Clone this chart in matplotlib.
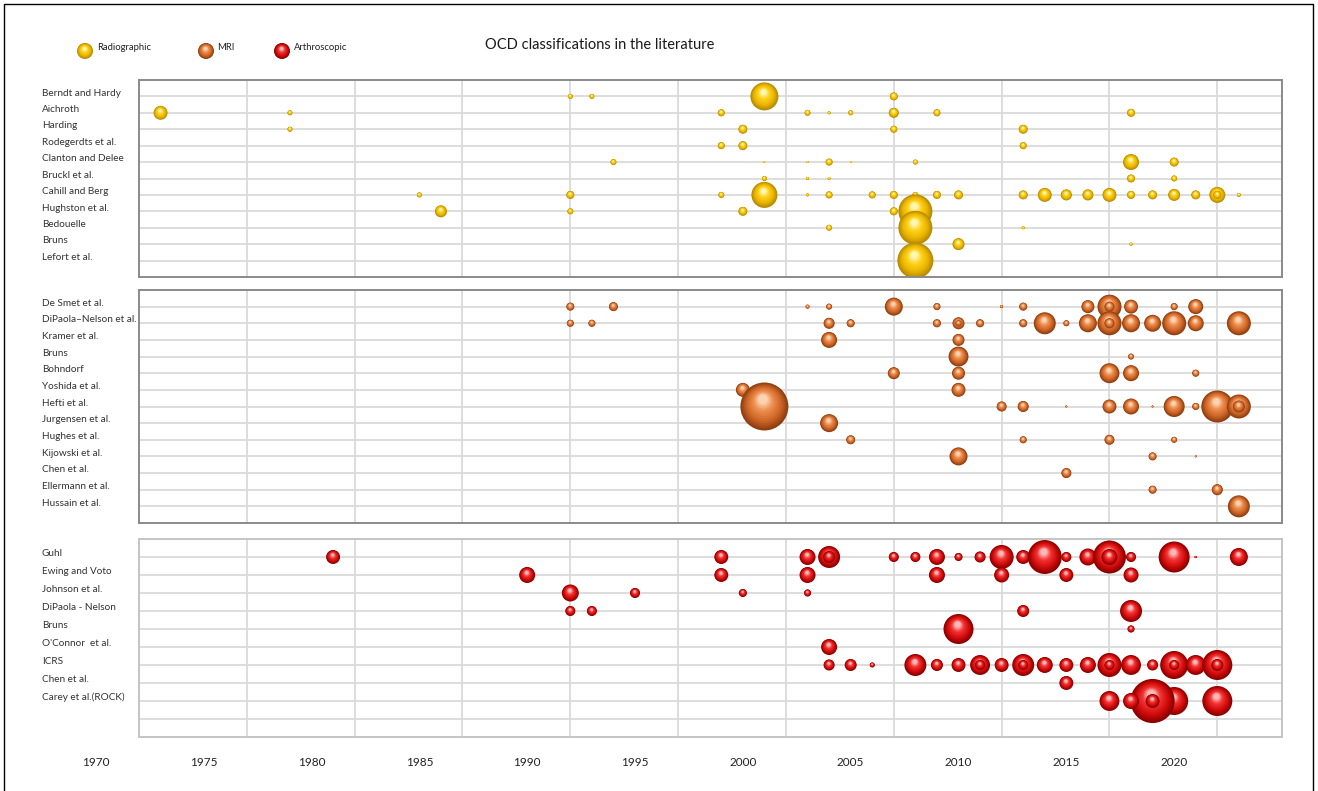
import numpy as np
import matplotlib
matplotlib.use("Agg")
import matplotlib.pyplot as plt
from matplotlib.colors import to_rgb
from matplotlib.transforms import blended_transform_factory as btf

# ---------------- data ----------------
title = "OCD classifications in the literature"
legend_names = ["Radiographic", "MRI", "Arthroscopic"]
year_labels = [1970, 1975, 1980, 1985, 1990, 1995, 2000, 2005, 2010, 2015, 2020]

radio_labels = ["Berndt and Hardy", "Aichroth", "Harding", "Rodegerdts et al.",
                "Clanton and Delee", "Bruckl et al.", "Cahill and Berg",
                "Hughston et al.", "Bedouelle", "Bruns", "Lefort et al."]
radio_years = [
    [1992, 1993, 2001, 2007],
    [1973, 1979, 1999, 2003, 2004, 2005, 2007, 2009, 2018],
    [1979, 2000, 2007, 2013],
    [1999, 2000, 2013],
    [1994, 2001, 2003, 2004, 2005, 2008, 2018, 2020],
    [2001, 2003, 2004, 2018, 2020],
    [1985, 1992, 1999, 2001, 2003, 2004, 2006, 2007, 2008, 2009, 2010, 2013,
     2014, 2015, 2016, 2017, 2018, 2019, 2020, 2021, 2022, 2023],
    [1986, 1992, 2000, 2007, 2008],
    [2004, 2008, 2013],
    [2010, 2018],
    [2008],
]
radio_values = [
    [0.7, 0.7, 21.8, 1.8],
    [5.4, 0.7, 1.4, 1.0, 0.25, 0.7, 2.8, 1.4, 1.8],
    [0.7, 2.25, 1.4, 2.25],
    [1.4, 2.25, 1.4],
    [1.0, 0.07, 0.1, 1.4, 0.07, 0.7, 7.1, 2.25],
    [0.7, 0.25, 0.25, 1.8, 1.0],
    [0.7, 1.8, 1.0, 18.8, 0.25, 1.4, 1.4, 1.8, 1.0, 1.8, 2.25, 2.25,
     5.4, 3.4, 3.4, 5.4, 1.8, 2.25, 4.0, 2.25, 7.1, 0.45],
    [4.0, 1.0, 2.25, 1.8, 32.0],
    [1.0, 32.0, 0.25],
    [4.0, 0.25],
    [36.0],
]
# overlapping (same position) entries that show as inner rings
radio_inner_rows = [6]
radio_inner_years = [2022]
radio_inner_values = [1.8]

mri_labels = ["De Smet et al.", "DiPaola\u2013Nelson et al.", "Kramer et al.", "Bruns",
              "Bohndorf", "Yoshida et al.", "Hefti et al.", "Jurgensen et al.",
              "Hughes et al.", "Kijowski et al.", "Chen et al.", "Ellermann et al.",
              "Hussain et al."]
mri_years = [
    [1992, 1994, 2003, 2004, 2007, 2009, 2012, 2013, 2016, 2017, 2018, 2020, 2021],
    [1992, 1993, 2004, 2005, 2009, 2010, 2011, 2013, 2014, 2015, 2016, 2017,
     2018, 2019, 2020, 2021, 2023],
    [2004, 2010],
    [2010, 2018],
    [2007, 2010, 2017, 2018, 2021],
    [2000, 2010],
    [2001, 2012, 2013, 2015, 2017, 2018, 2019, 2020, 2021, 2022, 2023],
    [2004],
    [2005, 2013, 2017, 2020],
    [2010, 2019, 2021],
    [2015],
    [2019, 2022],
    [2023],
]
mri_values = [
    [1.8, 2.25, 0.45, 1.0, 9.0, 1.4, 0.25, 1.8, 4.7, 16.0, 5.4, 1.4, 6.25],
    [1.4, 1.4, 3.4, 1.8, 1.8, 4.0, 1.8, 1.8, 13.4, 1.0, 9.0, 16.0,
     9.0, 8.0, 16.0, 7.1, 16.0],
    [7.1, 4.0],
    [11.0, 1.0],
    [4.0, 4.7, 11.0, 7.1, 1.4],
    [5.4, 5.4],
    [64.0, 2.8, 3.4, 0.1, 5.4, 7.1, 0.1, 12.25, 1.4, 28.4, 16.0],
    [9.0],
    [2.25, 1.4, 2.8, 1.0],
    [9.0, 1.8, 0.1],
    [2.8],
    [1.8, 3.4],
    [13.4],
]
mri_inner_rows = [0, 1, 1, 6]
mri_inner_years = [2017, 2010, 2017, 2023]
mri_inner_values = [2.8, 1.0, 2.8, 4.0]

arth_labels = ["Guhl", "Ewing and Voto", "Johnson et al.", "DiPaola - Nelson", "Bruns",
               "O'Connor  et al.", "ICRS", "Chen et al.", "Carey et al.(ROCK)"]
arth_years = [
    [1981, 1999, 2003, 2004, 2007, 2008, 2009, 2010, 2011, 2012, 2013, 2014,
     2015, 2016, 2017, 2018, 2020, 2021, 2023],
    [1990, 1999, 2003, 2009, 2012, 2015, 2018],
    [1992, 1995, 2000, 2003],
    [1992, 1993, 2013, 2018],
    [2010, 2018],
    [2004],
    [2004, 2005, 2006, 2008, 2009, 2010, 2011, 2012, 2013, 2014, 2015, 2016,
     2017, 2018, 2019, 2020, 2021, 2022],
    [2015],
    [2017, 2020, 2022, 2019, 2018],
]
arth_values = [
    [5.4, 5.4, 7.1, 13.4, 2.8, 2.8, 7.1, 1.8, 3.4, 16.0, 5.4, 32.0,
     2.8, 8.0, 30.25, 2.8, 26.7, 0.15, 9.0],
    [7.1, 5.4, 7.1, 7.1, 6.25, 5.4, 6.25],
    [8.0, 2.8, 1.8, 1.4],
    [2.8, 2.8, 4.0, 13.4],
    [25.0, 1.4],
    [7.1],
    [3.4, 4.0, 0.7, 13.4, 4.0, 5.4, 11.0, 5.4, 13.4, 7.1, 5.4, 7.1,
     16.0, 11.0, 3.4, 21.8, 11.0, 25.0],
    [5.4],
    [11.0, 21.8, 25.0, 54.0, 7.1],
]
arth_inner_rows = [0, 0, 6, 6, 6, 6, 6, 8]
arth_inner_years = [2004, 2017, 2011, 2013, 2017, 2020, 2022, 2019]
arth_inner_values = [4.0, 7.1, 2.8, 2.8, 2.8, 2.8, 4.0, 5.4]

# ---------------- style ----------------
W, H, DPI = 1318, 791, 100
FONT = ["Lato", "DejaVu Sans"]
plt.rcParams["font.family"] = FONT

YELLOW = [(0.0, "#b88a00"), (0.3, "#e8b400"), (0.7, "#ffd21a"), (1.0, "#fff6b0")]
ORANGE = [(0.0, "#8f3f10"), (0.3, "#cc6426"), (0.7, "#ee8e4e"), (1.0, "#fbd3b2")]
RED = [(0.0, "#8a0000"), (0.3, "#d00a0a"), (0.7, "#f23434"), (1.0, "#ffb8b8")]
BUBBLE_K = 3.0          # pixel radius per sqrt(value)
X0, X1 = 1972, 2025

fig = plt.figure(figsize=(W / DPI, H / DPI), dpi=DPI)
fig.patch.set_facecolor("white")


def interp_colors(stops, ts):
    pos = np.array([p for p, _ in stops])
    rgb = np.array([to_rgb(c) for _, c in stops])
    return np.stack([np.interp(ts, pos, rgb[:, i]) for i in range(3)], axis=1)


def bubble(ax, x, y, r, stops, ppx, ppy, z):
    n = 12
    t = np.linspace(0, 1, n)
    f = 1 - 0.8 * t
    xs = x - 0.06 * r * t / ppx
    ys = y - 0.30 * r * t / ppy
    d_pt = 2 * r * f * 72 / DPI
    ax.scatter(xs, ys, s=d_pt ** 2, c=interp_colors(stops, t),
               linewidths=0, zorder=z)


def px_axes(left, top, right, bottom, **kw):
    return fig.add_axes([left / W, 1 - bottom / H, (right - left) / W, (bottom - top) / H], **kw)


# background axes in pixel units (legend, frame)
bg = px_axes(0, 0, W, H, zorder=-1)
bg.set_xlim(0, W)
bg.set_ylim(H, 0)
bg.axis("off")
bg.plot([4, 4, 1313, 1313], [H, 4, 4, H], color="black", lw=1.0)

fig.text(600 / W, 1 - 45 / H, title, ha="center", va="center",
         fontsize=10.5, color="#1a1a1a")

leg_x = [85, 206, 282]
leg_text_x = [97, 217, 294]
for name, cx, tx, st in zip(legend_names, leg_x, leg_text_x, [YELLOW, ORANGE, RED]):
    bubble(bg, cx, 51, 8, st, 1, 1, 3)
    bg.text(tx, 48, name, ha="left", va="center", fontsize=6.8, color="#222222")

panels = [
    dict(labels=radio_labels, years=radio_years, values=radio_values, colors=YELLOW,
         inner=(radio_inner_rows, radio_inner_years, radio_inner_values),
         box=(139, 80, 1282, 277), nrows=11, spine="#8a8a8a"),
    dict(labels=mri_labels, years=mri_years, values=mri_values, colors=ORANGE,
         inner=(mri_inner_rows, mri_inner_years, mri_inner_values),
         box=(139, 290, 1282, 523), nrows=13, spine="#8a8a8a"),
    dict(labels=arth_labels, years=arth_years, values=arth_values, colors=RED,
         inner=(arth_inner_rows, arth_inner_years, arth_inner_values),
         box=(139, 539, 1282, 737), nrows=10, spine="#c4c4c4"),
]

axes = []
for p in panels:
    l, t, r, b = p["box"]
    ax = px_axes(l, t, r, b)
    axes.append(ax)
    nrows = p["nrows"]
    ax.set_xlim(X0, X1)
    ax.set_ylim(nrows, -1)
    ax.set_xticks(np.arange(1977, 2025, 5))
    ax.set_yticks(np.arange(0, nrows))
    ax.tick_params(length=0, labelbottom=False, labelleft=False)
    ax.grid(True, color="#dadada", lw=1.3)
    ax.set_axisbelow(True)
    for s in ax.spines.values():
        s.set_color(p["spine"])
        s.set_linewidth(1.4)
        s.set_zorder(20)
    ppx = (r - l) / (X1 - X0)
    ppy = (b - t) / (nrows + 1)
    for i, (yrs, vals) in enumerate(zip(p["years"], p["values"])):
        for j, (yr, v) in enumerate(zip(yrs, vals)):
            bubble(ax, yr, i, BUBBLE_K * np.sqrt(v), p["colors"], ppx, ppy,
                   3 + i * 0.01 + j * 0.0001)
    for i, yr, v in zip(*p["inner"]):
        bubble(ax, yr, i, BUBBLE_K * np.sqrt(v), p["colors"], ppx, ppy,
               3 + i * 0.01 + 0.005)
    tr = btf(fig.transFigure, ax.transData)
    for i, lab in enumerate(p["labels"]):
        fig.text(42 / W, i - 0.2, lab, transform=tr, ha="left", va="center",
                 fontsize=7.2, color="#333333")

tr = btf(axes[-1].transData, fig.transFigure)
for yl in year_labels:
    axes[-1].text(yl, 1 - 762 / H, str(yl), transform=tr, ha="center", va="center",
                  fontsize=8.5, color="#222222", clip_on=False)

fig.savefig("out.png", dpi=DPI, facecolor="white")
